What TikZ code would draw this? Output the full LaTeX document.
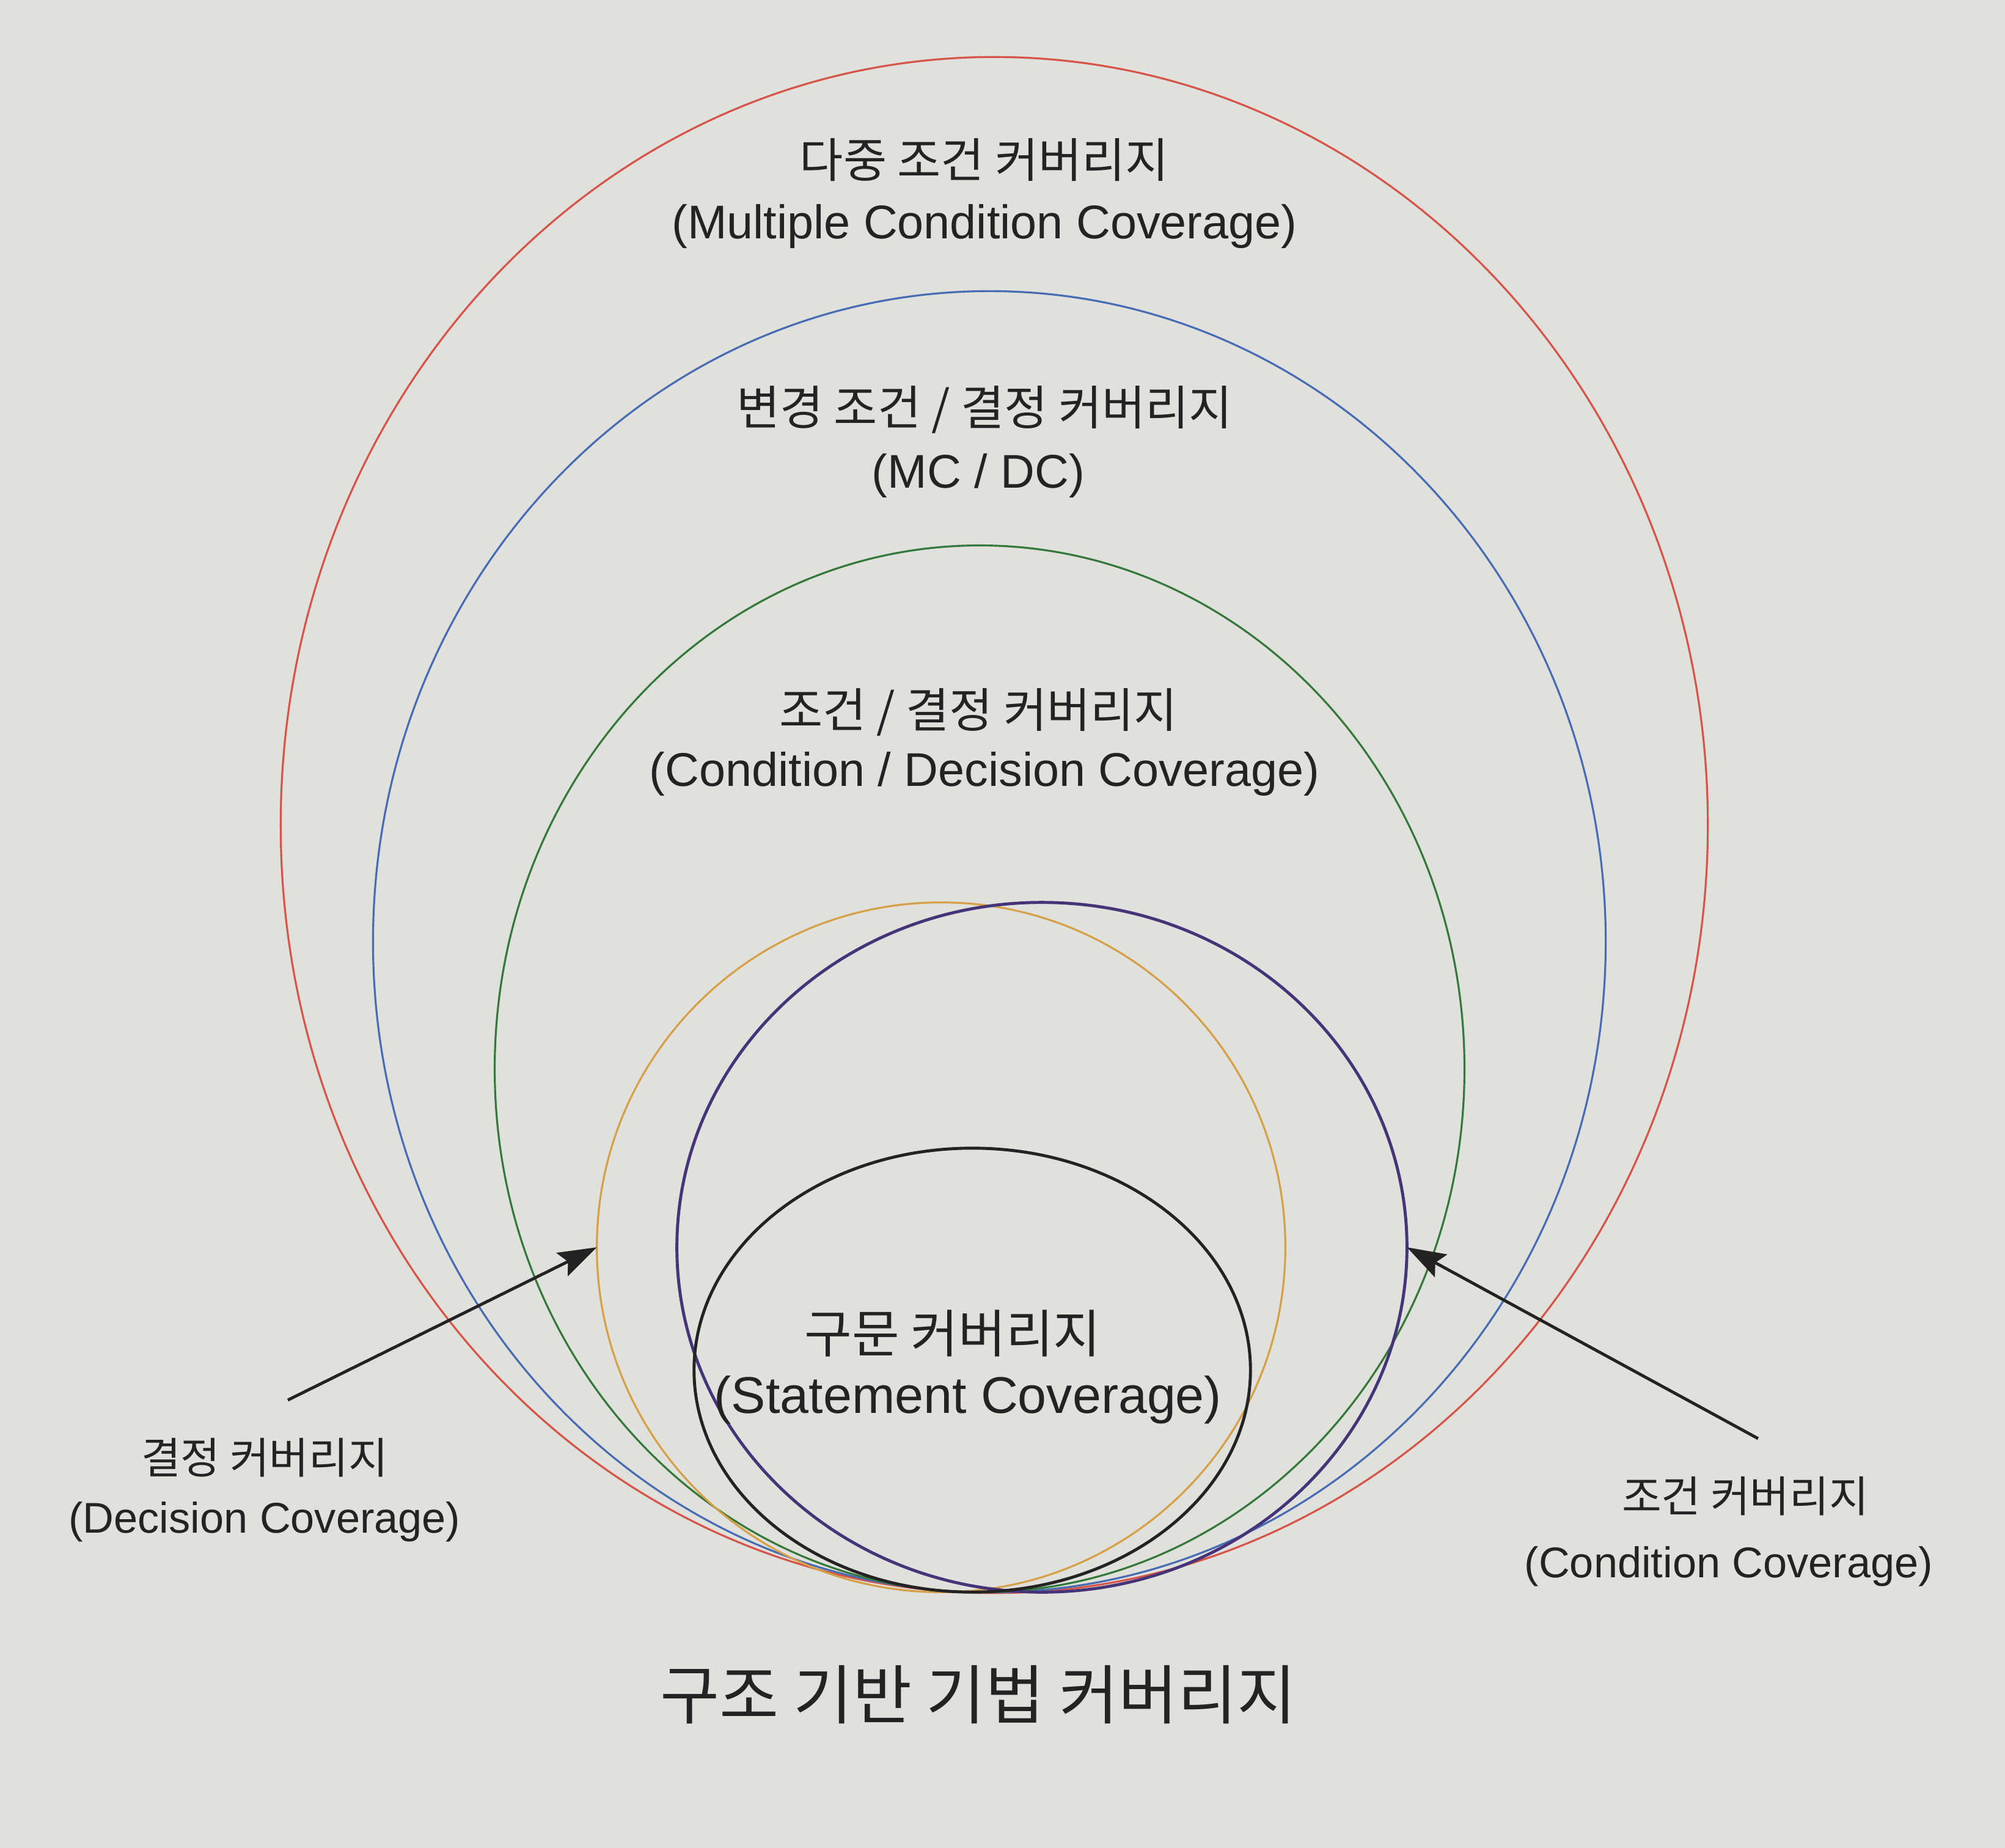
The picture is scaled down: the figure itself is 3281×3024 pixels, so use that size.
\documentclass[tikz,border=0pt]{standalone}
\usepackage{fontspec}
\setmainfont{Liberation Sans}
\newfontfamily\kr{Noto Sans CJK KR}
\usetikzlibrary{shapes.geometric,arrows.meta}
\definecolor{paper}{RGB}{224,224,220}
\definecolor{cred}{RGB}{214,84,72}
\definecolor{cblue}{RGB}{72,108,180}
\definecolor{cgreen}{RGB}{52,120,58}
\definecolor{corange}{RGB}{214,160,70}
\definecolor{cpurple}{RGB}{70,52,120}
\definecolor{ink}{RGB}{35,35,35}
\begin{document}
\begin{tikzpicture}[x=0.01cm,y=0.01cm,
  ring/.style={draw, ellipse, inner sep=0pt, outer sep=0pt},
  lbl/.style={align=center, text=ink, font=\fontsize{22}{30}\selectfont, inner sep=0pt},
  sidelbl/.style={lbl, font=\fontsize{20}{26}\selectfont},
  innerlbl/.style={lbl, font=\fontsize{24}{30}\selectfont},
  title/.style={text=ink, font=\kr\fontsize{30}{36}\selectfont, inner sep=0pt},
  pointer/.style={draw=ink, line width=1.4pt, -{Stealth[length=18pt,width=12pt,inset=3pt]}}]
\fill[paper] (0,0) rectangle (3281,-3024);
\useasboundingbox (0,0) rectangle (3281,-3024);
% ellipses
\node[ring, draw=cred, line width=0.9pt, minimum width=23.34cm, minimum height=25.12cm] (red) at (1627,-1350) {};
\node[ring, draw=cblue, line width=0.9pt, minimum width=20.16cm, minimum height=21.28cm] (blue) at (1619,-1541) {};
\node[ring, draw=cgreen, line width=0.9pt, minimum width=15.86cm, minimum height=17.12cm] (green) at (1603,-1749) {};
\node[ring, draw=corange, line width=0.9pt, minimum width=11.26cm, minimum height=11.28cm] (orange) at (1540,-2041) {};
\node[ring, draw=cpurple, line width=1.4pt, minimum width=11.94cm, minimum height=11.28cm] (purple) at (1705,-2041) {};
\node[ring, draw=ink, line width=1.4pt, minimum width=9.10cm, minimum height=7.26cm] (black) at (1591,-2242) {};
% labels
\node[lbl] (mcc) at (1611,-262) {{\kr 다중 조건 커버리지}};
\node[lbl] (mcce) at (1611,-370) {(Multiple Condition Coverage)};
\node[lbl] (mcdc) at (1611,-670) {{\kr 변경 조건 / 결정 커버리지}};
\node[lbl] (mcdce) at (1601,-778) {(MC / DC)};
\node[lbl] (cdc) at (1601,-1165) {{\kr 조건 / 결정 커버리지}};
\node[lbl] (cdce) at (1611,-1266) {(Condition / Decision Coverage)};
\node[innerlbl] (sc) at (1559,-2182) {{\kr 구문 커버리지}};
\node[innerlbl] (sce) at (1584,-2291) {(Statement Coverage)};
\node[sidelbl] (dc) at (433,-2385) {{\kr 결정 커버리지}};
\node[sidelbl] (dce) at (433,-2490) {(Decision Coverage)};
\node[sidelbl] (cc) at (2856,-2448) {{\kr 조건 커버리지}};
\node[sidelbl] (cce) at (2829,-2563) {(Condition Coverage)};
\node[title] (ttl) at (1601,-2773) {구조 기반 기법 커버리지};
% pointers
\coordinate (dcstart) at (471,-2291);
\coordinate (ccstart) at (2877,-2354);
\draw[pointer] (dcstart) -- (orange.west);
\draw[pointer] (ccstart) -- (purple.east);
\end{tikzpicture}
\end{document}
